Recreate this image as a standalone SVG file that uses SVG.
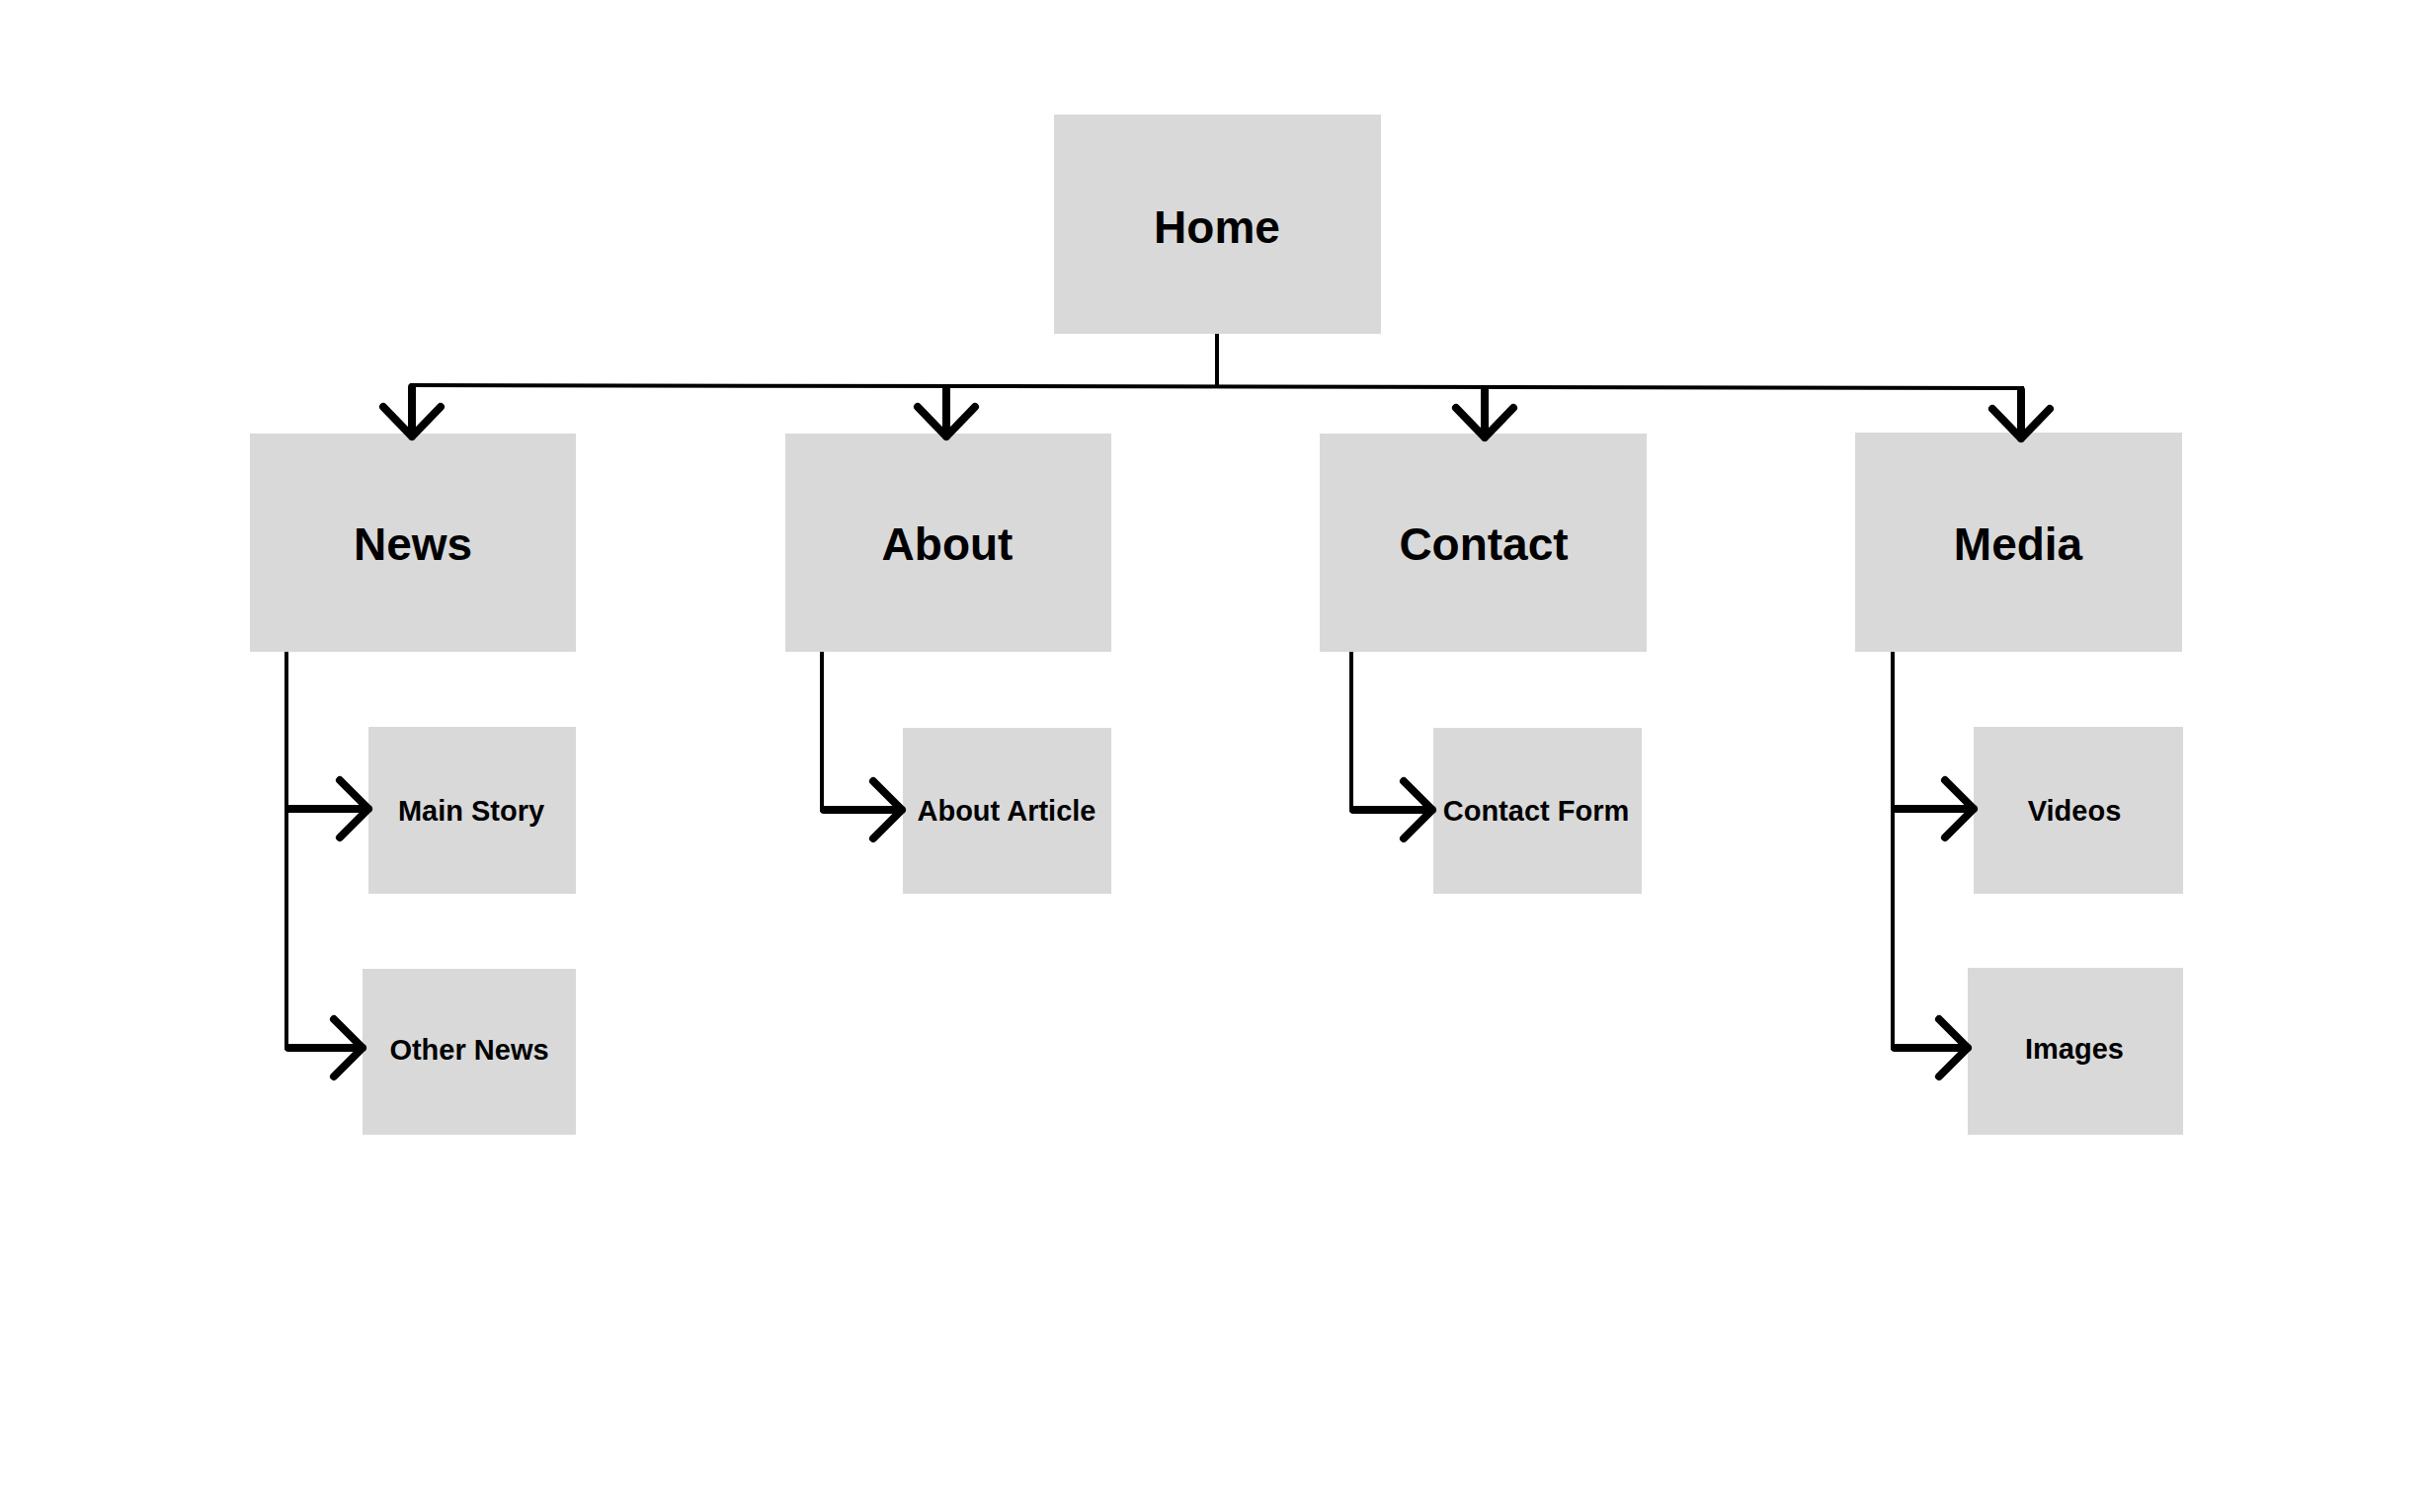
<svg xmlns="http://www.w3.org/2000/svg" width="2462" height="1531" viewBox="0 0 2462 1531">
<style>
.box{fill:#d9d9d9}
.big{font-family:"Liberation Sans",Arial,sans-serif;font-weight:bold;font-size:46px;fill:#000;text-anchor:middle}
.small{font-family:"Liberation Sans",Arial,sans-serif;font-weight:bold;font-size:29px;fill:#000;text-anchor:middle}
.thin{stroke:#000;stroke-width:4;fill:none}
.thick{stroke:#000;stroke-width:8;fill:none;stroke-linecap:round;stroke-linejoin:round}
</style>
<rect width="2462" height="1531" fill="#fff"/>
<g id="nodes">
<g id="home"><rect class="box" x="1067" y="116" width="331" height="222"/><text class="big" x="1232" y="246">Home</text></g>
<g id="news"><rect class="box" x="253" y="439" width="330" height="221"/><text class="big" x="418" y="567">News</text></g>
<g id="about"><rect class="box" x="795" y="439" width="330" height="221"/><text class="big" x="959" y="567">About</text></g>
<g id="contact"><rect class="box" x="1336" y="439" width="331" height="221"/><text class="big" x="1502" y="567">Contact</text></g>
<g id="media"><rect class="box" x="1878" y="438" width="331" height="222"/><text class="big" x="2043" y="567">Media</text></g>
<g id="main-story"><rect class="box" x="373" y="736" width="210" height="169"/><text class="small" x="477" y="831">Main Story</text></g>
<g id="other-news"><rect class="box" x="367" y="981" width="216" height="168"/><text class="small" x="475" y="1073">Other News</text></g>
<g id="about-article"><rect class="box" x="914" y="737" width="211" height="168"/><text class="small" x="1019" y="831">About Article</text></g>
<g id="contact-form"><rect class="box" x="1451" y="737" width="211" height="168"/><text class="small" x="1555" y="831">Contact Form</text></g>
<g id="videos"><rect class="box" x="1998" y="736" width="212" height="169"/><text class="small" x="2100" y="831">Videos</text></g>
<g id="images"><rect class="box" x="1992" y="980" width="218" height="169"/><text class="small" x="2100" y="1072">Images</text></g>
</g>
<g id="connectors">
<line class="thin" x1="1232" y1="338" x2="1232" y2="392"/>
<line class="thin" x1="415" y1="390" x2="2049" y2="393"/>
<path class="thick" d="M417 392 V442 M388 412 L417 442 L446 412"/>
<path class="thick" d="M958 393 V442 M929 412 L958 442 L987 412"/>
<path class="thick" d="M1503 394 V443 M1474 413 L1503 443 L1532 413"/>
<path class="thick" d="M2046 395 V444 M2017 414 L2046 444 L2075 414"/>
<line class="thin" x1="290" y1="660" x2="290" y2="1063"/>
<path class="thick" d="M292 819 H373 M344 790 L373 819 L344 848"/>
<path class="thick" d="M292 1061 H367 M338 1032 L367 1061 L338 1090"/>
<line class="thin" x1="832" y1="660" x2="832" y2="822"/>
<path class="thick" d="M834 820 H913 M884 791 L913 820 L884 849"/>
<line class="thin" x1="1368" y1="660" x2="1368" y2="822"/>
<path class="thick" d="M1370 820 H1450 M1421 791 L1450 820 L1421 849"/>
<line class="thin" x1="1916" y1="660" x2="1916" y2="1063"/>
<path class="thick" d="M1918 819 H1998 M1969 790 L1998 819 L1969 848"/>
<path class="thick" d="M1918 1061 H1992 M1963 1032 L1992 1061 L1963 1090"/>
</g>
</svg>
